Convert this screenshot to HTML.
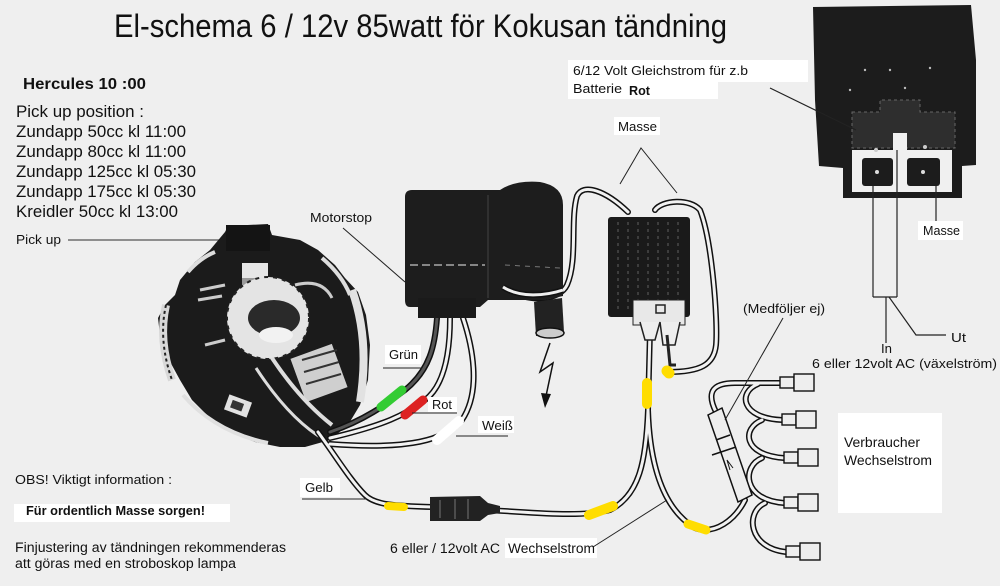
<!DOCTYPE html>
<html><head><meta charset="utf-8"><style>
html,body{margin:0;padding:0;background:#efefef;}
svg{display:block;}
text{font-family:"Liberation Sans",Arial,sans-serif;fill:#111;}
</style></head><body>
<svg width="1000" height="586" viewBox="0 0 1000 586" xmlns="http://www.w3.org/2000/svg">
<rect width="1000" height="586" fill="#efefef"/>

<!-- Title -->
<text x="114" y="37" font-size="32" textLength="613" lengthAdjust="spacingAndGlyphs">El-schema 6 / 12v 85watt för Kokusan tändning</text>

<!-- Left texts -->
<text x="23" y="89" font-size="16" font-weight="bold" textLength="123" lengthAdjust="spacingAndGlyphs">Hercules 10 :00</text>
<text x="16" y="117" font-size="17" textLength="128" lengthAdjust="spacingAndGlyphs">Pick up position :</text>
<text x="16" y="137" font-size="17" textLength="170" lengthAdjust="spacingAndGlyphs">Zundapp 50cc kl 11:00</text>
<text x="16" y="157" font-size="17" textLength="170" lengthAdjust="spacingAndGlyphs">Zundapp 80cc kl 11:00</text>
<text x="16" y="177" font-size="17" textLength="180" lengthAdjust="spacingAndGlyphs">Zundapp 125cc kl 05:30</text>
<text x="16" y="197" font-size="17" textLength="180" lengthAdjust="spacingAndGlyphs">Zundapp 175cc kl 05:30</text>
<text x="16" y="217" font-size="17" textLength="162" lengthAdjust="spacingAndGlyphs">Kreidler 50cc kl 13:00</text>
<text x="16" y="244" font-size="13" textLength="45" lengthAdjust="spacingAndGlyphs">Pick up</text>
<line x1="68" y1="240" x2="234" y2="240" stroke="#555" stroke-width="1.2"/>

<text x="15" y="484" font-size="13" textLength="157" lengthAdjust="spacingAndGlyphs">OBS! Viktigt information :</text>
<rect x="14" y="504" width="216" height="18" fill="#fff"/>
<text x="26" y="515" font-size="13" font-weight="bold" textLength="179" lengthAdjust="spacingAndGlyphs">Für ordentlich Masse sorgen!</text>
<text x="15" y="552" font-size="13.5" textLength="271" lengthAdjust="spacingAndGlyphs">Finjustering av tändningen rekommenderas</text>
<text x="15" y="568" font-size="13.5" textLength="221" lengthAdjust="spacingAndGlyphs">att göras med en stroboskop lampa</text>

<!-- Stator -->
<g>
<polygon points="210,250 225,232 228,226 268,224 272,235 300,240 318,250 335,265 345,278 358,292 366,315 370,345 368,380 360,405 348,425 330,440 305,447 280,447 255,442 230,432 210,418 192,400 180,380 168,358 160,335 158,318 165,305 175,295 180,280 195,262" fill="#1b1b1b"/>
<rect x="226" y="225" width="44" height="26" fill="#141414"/>
<rect x="242" y="263" width="26" height="15" fill="#e6e6e6"/>
<rect x="242" y="278" width="26" height="12" fill="#9a9a9a"/>
<path d="M352,290 Q370,340 360,402" stroke="#e2e2e2" stroke-width="8" fill="none"/>
<path d="M166,305 Q158,340 172,380" stroke="#d8d8d8" stroke-width="8" fill="none"/>
<path d="M166,305 Q158,340 172,380" stroke="#222" stroke-width="2" stroke-dasharray="3 3" fill="none"/>
<path d="M183,395 Q215,432 268,443" stroke="#e0e0e0" stroke-width="4" fill="none"/>
<path d="M188,272 Q200,258 215,252" stroke="#ddd" stroke-width="4" fill="none"/>
<path d="M322,258 Q342,275 350,295" stroke="#ddd" stroke-width="4" fill="none"/>
<circle cx="268" cy="318" r="41" fill="#e4e4e4"/>
<circle cx="268" cy="318" r="41" fill="none" stroke="#222" stroke-width="2" stroke-dasharray="4 5"/>
<ellipse cx="274" cy="318" rx="26" ry="18" fill="#2a2a2a"/>
<ellipse cx="276" cy="335" rx="17" ry="8" fill="#f2f2f2"/>
<rect x="297" y="350" width="44" height="46" fill="#cfcfcf" transform="rotate(-20 319 373)"/>
<path d="M302,360 L337,350 M304,372 L339,362 M306,384 L341,374" stroke="#333" stroke-width="2"/>
<rect x="226" y="398" width="24" height="16" fill="#e2e2e2" transform="rotate(20 238 406)"/>
<rect x="231" y="402" width="12" height="8" fill="#333" transform="rotate(20 238 406)"/>
<path d="M200,290 L225,285 M198,300 L222,296 M205,345 L225,340" stroke="#ccc" stroke-width="3"/>
<path d="M295,285 Q322,278 332,298" stroke="#ccc" stroke-width="3" fill="none"/>
<path d="M272,358 Q300,400 332,425" stroke="#ddd" stroke-width="4" fill="none"/>
<path d="M256,368 Q290,420 325,440" stroke="#ddd" stroke-width="3" fill="none"/>
</g>

<!-- Wires: outline then fill -->
<g fill="none" stroke="#111" stroke-width="6" stroke-linecap="round">
<path d="M437,318 C435,345 430,370 405,390 C385,405 365,420 330,432"/>
<path d="M450,318 C450,350 445,385 425,400 C405,415 385,425 330,438"/>
<path d="M463,318 C472,345 482,390 462,420 C445,440 410,450 330,444"/>
<path d="M318,432 C335,455 350,480 365,495 C375,505 395,506 432,507"/>
<path d="M503,287 C530,305 560,300 567,285 C578,260 570,220 577,196 C583,183 605,190 628,212"/>
<path d="M655,210 C662,200 690,198 700,210 C712,240 718,320 716,345 C714,365 700,372 668,372"/>
<path d="M650,330 L648,410 C646,460 640,495 610,510 C580,518 530,512 486,510"/>
<path d="M648,410 C650,470 665,510 695,528 C715,535 735,520 745,500"/>
<path d="M716,412 C705,390 715,383 735,383 L785,383"/>
<path d="M758,384 C738,392 740,418 782,420"/>
<path d="M762,420 C742,428 742,455 784,458"/>
<path d="M762,458 C742,466 742,500 784,503"/>
<path d="M765,503 C745,512 748,548 786,552"/>
</g>
<g fill="none" stroke="#f2f2f2" stroke-width="3" stroke-linecap="round">
<path d="M437,318 C435,345 430,370 405,390 C385,405 365,420 330,432" stroke="#555"/>
<path d="M450,318 C450,350 445,385 425,400 C405,415 385,425 330,438"/>
<path d="M463,318 C472,345 482,390 462,420 C445,440 410,450 330,444"/>
<path d="M318,432 C335,455 350,480 365,495 C375,505 395,506 432,507"/>
<path d="M503,287 C530,305 560,300 567,285 C578,260 570,220 577,196 C583,183 605,190 628,212"/>
<path d="M655,210 C662,200 690,198 700,210 C712,240 718,320 716,345 C714,365 700,372 668,372"/>
<path d="M650,330 L648,410 C646,460 640,495 610,510 C580,518 530,512 486,510"/>
<path d="M648,410 C650,470 665,510 695,528 C715,535 735,520 745,500"/>
<path d="M716,412 C705,390 715,383 735,383 L785,383"/>
<path d="M758,384 C738,392 740,418 782,420"/>
<path d="M762,420 C742,428 742,455 784,458"/>
<path d="M762,458 C742,466 742,500 784,503"/>
<path d="M765,503 C745,512 748,548 786,552"/>
</g>

<!-- CDI unit -->
<g>
<path d="M405,197 Q405,190 412,190 L500,190 Q515,180 540,182 Q563,186 563,205 L563,296 L545,300 L488,300 L480,307 L410,307 Q405,307 405,300 Z" fill="#1d1d1d"/>
<rect x="418" y="298" width="58" height="20" fill="#1a1a1a"/>
<path d="M410,265 L485,265" stroke="#aaa" stroke-width="1.5" stroke-dasharray="8 4"/>
<path d="M488,195 L488,298" stroke="#444" stroke-width="1"/>
<path d="M505,265 L560,268" stroke="#777" stroke-width="1" stroke-dasharray="5 5"/>
<path d="M503,287 C520,298 545,296 563,290" stroke="#111" stroke-width="6" fill="none"/>
<path d="M503,287 C520,298 545,296 563,290" stroke="#eee" stroke-width="3" fill="none"/>
<path d="M534,302 L562,298 L564,332 L536,336 Z" fill="#222"/>
<ellipse cx="550" cy="333" rx="14" ry="5" fill="#ccc" stroke="#111" stroke-width="1.5"/>
</g>
<!-- Lightning -->
<polyline points="550,343 540,372 553,363 546,396" fill="none" stroke="#111" stroke-width="1.5"/>
<polygon points="541,393 551,394 545,408" fill="#111"/>

<!-- Small regulator -->
<g>
<rect x="608" y="217" width="82" height="100" rx="3" fill="#1a1a1a"/>
<path d="M618,222 L618,312 M628,222 L628,312 M638,222 L638,312 M648,222 L648,312 M658,222 L658,312 M668,222 L668,312 M678,222 L678,312" stroke="#555" stroke-width="1.2" stroke-dasharray="3 4"/>
<rect x="633" y="300" width="52" height="25" fill="#e8e8e8" stroke="#222" stroke-width="1"/>
<rect x="656" y="305" width="9" height="8" fill="none" stroke="#222" stroke-width="1.5"/>
<path d="M640,322 L645,340 L655,340 L660,322 M660,322 L663,345 L675,345 L680,322" fill="#eee" stroke="#222" stroke-width="1.5"/>
<path d="M667,335 L670,365 L676,365" stroke="#222" stroke-width="3" fill="none"/>
</g>

<!-- Gelb connector block -->
<path d="M430,497 L480,496 L488,503 L500,506 L500,513 L488,515 L480,521 L430,521 Z" fill="#222"/>
<path d="M440,500 L440,518 M455,499 L455,519 M468,499 L468,519" stroke="#777" stroke-width="1"/>

<!-- Fuse holder -->
<path d="M708,415 L722,408 L752,495 L738,502 Z" fill="#eee" stroke="#111" stroke-width="1.5"/>
<path d="M716,440 L730,435" stroke="#111" stroke-width="1.5"/>
<path d="M712,455 L736,447" stroke="#111" stroke-width="1.5"/>
<path d="M730,470 L727,460 L733,468" stroke="#111" stroke-width="1" fill="none"/>

<!-- Terminals -->
<g fill="#eee" stroke="#111" stroke-width="1.4">
<rect x="780" y="377" width="14" height="11"/><rect x="794" y="374" width="20" height="17"/>
<rect x="782" y="414" width="14" height="11"/><rect x="796" y="411" width="20" height="17"/>
<rect x="784" y="452" width="14" height="11"/><rect x="798" y="449" width="20" height="17"/>
<rect x="784" y="497" width="14" height="11"/><rect x="798" y="494" width="20" height="17"/>
<rect x="786" y="546" width="14" height="11"/><rect x="800" y="543" width="20" height="17"/>
</g>

<!-- Colored markers -->
<g stroke-linecap="round" fill="none">
<line x1="381" y1="407" x2="402" y2="390" stroke="#33cc33" stroke-width="9"/>
<line x1="405" y1="415" x2="423" y2="400" stroke="#dd2222" stroke-width="9"/>
<line x1="437" y1="440" x2="459" y2="421" stroke="#ffffff" stroke-width="10"/>
<line x1="388" y1="506" x2="404" y2="507" stroke="#ffdd00" stroke-width="8"/>
<line x1="589" y1="515" x2="613" y2="506" stroke="#ffdd00" stroke-width="10"/>
<line x1="647" y1="383" x2="647" y2="404" stroke="#ffdd00" stroke-width="10"/>
<line x1="688" y1="524" x2="706" y2="530" stroke="#ffdd00" stroke-width="9"/>
<line x1="667" y1="371" x2="669" y2="373" stroke="#ffdd00" stroke-width="11"/>
</g>

<!-- Labels with white backgrounds -->
<rect x="385" y="345" width="36" height="19" fill="#fff"/>
<text x="389" y="359" font-size="13" textLength="29" lengthAdjust="spacingAndGlyphs">Grün</text>
<line x1="383" y1="368" x2="422" y2="368" stroke="#222" stroke-width="1"/>
<rect x="428" y="397" width="29" height="15" fill="#fff"/>
<text x="432" y="409" font-size="13" textLength="20" lengthAdjust="spacingAndGlyphs">Rot</text>
<line x1="412" y1="413" x2="457" y2="413" stroke="#222" stroke-width="1"/>
<rect x="478" y="416" width="36" height="17" fill="#fff"/>
<text x="482" y="430" font-size="13" textLength="31" lengthAdjust="spacingAndGlyphs">Weiß</text>
<line x1="456" y1="436" x2="508" y2="436" stroke="#222" stroke-width="1"/>
<rect x="300" y="478" width="40" height="19" fill="#fff"/>
<text x="305" y="492" font-size="13" textLength="28" lengthAdjust="spacingAndGlyphs">Gelb</text>
<line x1="302" y1="499" x2="367" y2="499" stroke="#222" stroke-width="1"/>

<text x="310" y="222" font-size="13" textLength="62" lengthAdjust="spacingAndGlyphs">Motorstop</text>
<line x1="343" y1="228" x2="405" y2="282" stroke="#222" stroke-width="1"/>

<text x="390" y="553" font-size="13.5" textLength="110" lengthAdjust="spacingAndGlyphs">6 eller / 12volt AC</text>
<rect x="505" y="538" width="92" height="20" fill="#fff"/>
<text x="508" y="553" font-size="13.5" textLength="87" lengthAdjust="spacingAndGlyphs">Wechselstrom</text>
<line x1="593" y1="547" x2="667" y2="500" stroke="#222" stroke-width="1"/>

<text x="743" y="313" font-size="13" textLength="82" lengthAdjust="spacingAndGlyphs">(Medföljer ej)</text>
<line x1="783" y1="318" x2="725" y2="420" stroke="#222" stroke-width="1"/>

<rect x="838" y="413" width="104" height="100" fill="#fff"/>
<text x="844" y="447" font-size="14" textLength="76" lengthAdjust="spacingAndGlyphs">Verbraucher</text>
<text x="844" y="465" font-size="14" textLength="88" lengthAdjust="spacingAndGlyphs">Wechselstrom</text>

<!-- Masse top -->
<rect x="614" y="117" width="46" height="18" fill="#fff"/>
<text x="618" y="131" font-size="13" textLength="39" lengthAdjust="spacingAndGlyphs">Masse</text>
<polyline points="620,184 641,148 677,193" fill="none" stroke="#222" stroke-width="1"/>

<!-- Big regulator (top right) -->
<path d="M813,7 L971,5 L976,60 L976,165 L962,166 L962,198 L843,198 L843,168 L819,166 L815,100 Z" fill="#1c1c1c"/>
<path d="M852,112 L880,112 L880,100 L920,100 L920,112 L955,112 L955,148 L852,148 Z" fill="#2e2e2e" stroke="#666" stroke-width="1" stroke-dasharray="3 3"/>
<rect x="852" y="150" width="100" height="42" fill="#f0f0f0"/>
<rect x="893" y="133" width="14" height="20" fill="#f0f0f0"/>
<rect x="862" y="158" width="31" height="28" rx="3" fill="#1c1c1c"/>
<rect x="907" y="158" width="33" height="28" rx="3" fill="#1c1c1c"/>
<circle cx="877" cy="172" r="2" fill="#ddd"/>
<circle cx="923" cy="172" r="2" fill="#ddd"/>
<circle cx="876" cy="150" r="2" fill="#ccc"/>
<circle cx="925" cy="147" r="2" fill="#ccc"/>
<g fill="#bbb"><circle cx="865" cy="70" r="1.2"/><circle cx="890" cy="70" r="1.2"/><circle cx="930" cy="68" r="1.2"/><circle cx="850" cy="90" r="1.2"/><circle cx="905" cy="88" r="1.2"/></g>

<!-- leader lines for big regulator -->
<g stroke="#222" stroke-width="1.2" fill="none">
<line x1="873" y1="186" x2="873" y2="297"/>
<line x1="897" y1="150" x2="897" y2="297"/>
<line x1="873" y1="297" x2="897" y2="297"/>
<line x1="886" y1="297" x2="886" y2="343"/>
<polyline points="889,297 916,335 946,335"/>
<line x1="936" y1="186" x2="936" y2="226"/>
<line x1="770" y1="88" x2="856" y2="130"/>
</g>
<rect x="918" y="221" width="45" height="19" fill="#fff"/>
<text x="923" y="235" font-size="13" textLength="37" lengthAdjust="spacingAndGlyphs">Masse</text>
<text x="881" y="353" font-size="13" textLength="11" lengthAdjust="spacingAndGlyphs">In</text>
<text x="951" y="342" font-size="13" textLength="15" lengthAdjust="spacingAndGlyphs">Ut</text>
<text x="812" y="368" font-size="13" textLength="185" lengthAdjust="spacingAndGlyphs">6 eller 12volt AC (växelström)</text>

<rect x="568" y="60" width="240" height="22" fill="#fff"/>
<rect x="568" y="81" width="150" height="18" fill="#fff"/>
<text x="573" y="75" font-size="13" textLength="175" lengthAdjust="spacingAndGlyphs">6/12 Volt Gleichstrom für z.b</text>
<text x="573" y="93" font-size="13" textLength="49" lengthAdjust="spacingAndGlyphs">Batterie</text>
<text x="629" y="95" font-size="13" font-weight="bold" textLength="21" lengthAdjust="spacingAndGlyphs">Rot</text>
</svg>
</body></html>
